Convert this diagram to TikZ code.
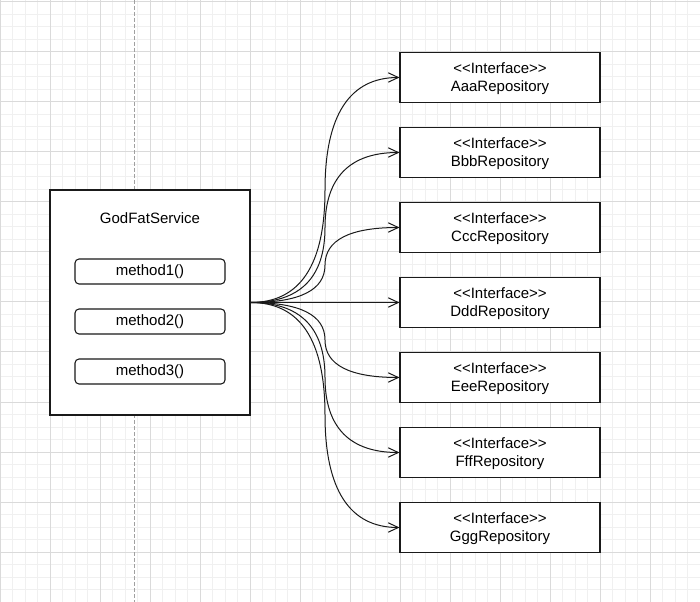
\documentclass[tikz,border=0pt]{standalone}
\usepackage{fontspec}
\setmainfont{Liberation Sans}
\usetikzlibrary{arrows.meta,calc}
\definecolor{minorgrid}{HTML}{F0F0F0}
\definecolor{majorgrid}{HTML}{DADADA}
\definecolor{dashgrey}{HTML}{A0A0A0}
\definecolor{edge}{HTML}{1A1A1A}
\begin{document}
\begin{tikzpicture}[x=0.75pt,y=-0.75pt,
  txt/.style={font=\fontsize{11.25}{13.5}\selectfont, align=center, text=black},
  classbox/.style={draw=edge, line width=0.8pt, fill=white, minimum width=150pt, minimum height=37.5pt, inner sep=0pt, text depth=0pt, txt},
  methodbox/.style={draw=edge, line width=0.8pt, rounded corners=3pt, fill=white, minimum width=112.5pt, minimum height=18.75pt, inner sep=0pt, txt},
  svcbox/.style={draw=edge, line width=0.8pt, fill=white, minimum width=150pt, minimum height=168.75pt, inner sep=0pt},
  dep/.style={draw=edge, line width=0.75pt, -{Straight Barb[length=7.5pt,width=7pt]}},
  minor/.style={draw=minorgrid, line width=0.75pt},
  major/.style={draw=majorgrid, line width=0.75pt},
  sep/.style={draw=dashgrey, line width=0.75pt, dash pattern=on 3pt off 1.5pt}]
\useasboundingbox[fill=white] (0,0) rectangle (700,602);
% grid
\foreach \i in {0,...,56} \draw[minor] ({\i*12.5},0) -- ({\i*12.5},602);
\foreach \i in {0,...,48} \draw[minor] (0,{2+\i*12.5}) -- (700,{2+\i*12.5});
\foreach \i in {0,...,14} \draw[major] ({\i*50},0) -- ({\i*50},602);
\foreach \i in {0,...,12} \draw[major] (0,{2+\i*50}) -- (700,{2+\i*50});
% separator
\coordinate (septop) at (134.5,0);
\coordinate (sepbot) at (134.5,602);
\draw[sep] (septop) -- (sepbot);
% service
\node[svcbox] (svc) at (150,302.5) {};
\node[txt] (title) at (150,218) {GodFatService};
\node[methodbox] (m1) at (150,271.5) {method1()};
\node[methodbox] (m2) at (150,321.5) {method2()};
\node[methodbox] (m3) at (150,371.5) {method3()};
% repositories
\node[classbox] (r1) at (500,77.5) {<{}<Interface>{}>\\AaaRepository};
\node[classbox] (r2) at (500,152.5) {<{}<Interface>{}>\\BbbRepository};
\node[classbox] (r3) at (500,227.5) {<{}<Interface>{}>\\CccRepository};
\node[classbox] (r4) at (500,302.5) {<{}<Interface>{}>\\DddRepository};
\node[classbox] (r5) at (500,377.5) {<{}<Interface>{}>\\EeeRepository};
\node[classbox] (r6) at (500,452.5) {<{}<Interface>{}>\\FffRepository};
\node[classbox] (r7) at (500,527.5) {<{}<Interface>{}>\\GggRepository};
% connectors
\foreach \i in {1,...,7}
  \draw[dep] let \p1=(svc.east), \p2=(r\i.west) in
    (\p1) .. controls ({\x1+(\x2-\x1)/3},\y1) and ({(\x1+\x2)/2},{\y1+(\y2-\y1)/6})
    .. ({(\x1+\x2)/2},{(\y1+\y2)/2})
    .. controls ({(\x1+\x2)/2},{\y2-(\y2-\y1)/6}) and ({\x2-(\x2-\x1)/3},\y2) .. (\p2);
\end{tikzpicture}
\end{document}
